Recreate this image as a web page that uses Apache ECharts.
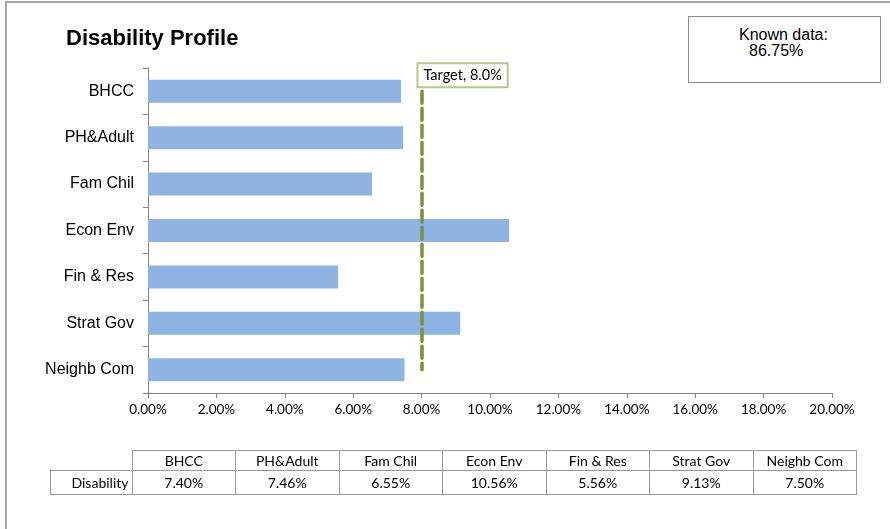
<!DOCTYPE html>
<html>
<head>
<meta charset="utf-8">
<script src="https://cdn.jsdelivr.net/npm/echarts@6/dist/echarts.min.js"></script>
<style>
    html, body { margin: 0; padding: 0; background: #fff; }
    body { width: 890px; height: 529px; position: relative; overflow: hidden; }
    #frame {
        position: absolute; left: 5px; top: 1px; width: 1000px; height: 700px;
        border-left: 2px solid #a6a6a6; border-top: 2px solid #a6a6a6;
    }
    #chart { position: absolute; left: 0; top: 0; width: 890px; height: 529px; }
    #known {
        position: absolute; left: 688px; top: 16px; width: 191px; height: 65px;
        border: 1px solid #8c8c8c; background: #fff;
        font-family: "Liberation Sans", Arial, sans-serif; font-size: 16px; color: #000;
        line-height: 16px;
    }
    #known .l1 { position: absolute; left: 50px; top: 10px; }
    #known .l2 { position: absolute; left: 60px; top: 26px; }
    #table {
        position: absolute; left: 50px; top: 450px;
        border-collapse: collapse; table-layout: fixed;
        font-family: Lato, "Open Sans", sans-serif; font-size: 14px; color: #000;
    }
    #table td { border: 1px solid #999; text-align: center; padding: 0; white-space: nowrap; }
    #table tr.head td { height: 19px; }
    #table tr.vals td { height: 23px; }
    #table td.rowlabel { text-align: right; padding-right: 3px; }
    #table td.blank { border-left: none; border-top: none; }
</style>
</head>
<body>
<div id="frame"></div>
<div id="chart"></div>
<div id="known"><span class="l1">Known data:</span><span class="l2">86.75%</span></div>
<table id="table"></table>
<script>
// chart data
const categories = ['BHCC', 'PH&Adult', 'Fam Chil', 'Econ Env', 'Fin & Res', 'Strat Gov', 'Neighb Com'];
const disability = [0.0740, 0.0746, 0.0655, 0.1056, 0.0556, 0.0913, 0.0750];
const targetValue = 0.08;
const targetLabel = 'Target, 8.0%';
const xTicks = [0, 0.02, 0.04, 0.06, 0.08, 0.10, 0.12, 0.14, 0.16, 0.18, 0.20];
const rowName = 'Disability';

const calibriLike = 'Lato, "Open Sans", sans-serif';

// data table under the chart
const table = document.getElementById('table');
let head = '<tr class="head"><td class="blank" style="width:81px"></td>';
categories.forEach(c => { head += '<td style="width:102.5px">' + c.replace('&', '&amp;') + '</td>'; });
head += '</tr>';
let vals = '<tr class="vals"><td class="rowlabel">' + rowName + '</td>';
disability.forEach(v => { vals += '<td>' + (v * 100).toFixed(2) + '%</td>'; });
vals += '</tr>';
table.innerHTML = head + vals;

const chart = echarts.init(document.getElementById('chart'));
const option = {
    animation: false,
    title: {
        text: 'Disability Profile',
        left: 61,
        top: 23,
        textStyle: {
            fontFamily: '"Liberation Sans", Arial, sans-serif',
            fontSize: 22,
            fontWeight: 'bold',
            color: '#000'
        }
    },
    grid: {
        left: 148,
        right: 58,
        top: 68,
        bottom: 136
    },
    xAxis: {
        type: 'value',
        min: xTicks[0],
        max: xTicks[xTicks.length - 1],
        interval: 0.02,
        axisLine: { show: true, lineStyle: { color: '#868686', width: 1 } },
        axisTick: { show: true, length: 5, lineStyle: { color: '#868686' } },
        splitLine: { show: false },
        axisLabel: {
            margin: 10,
            color: '#000',
            fontFamily: calibriLike,
            fontSize: 13.5,
            formatter: v => (v * 100).toFixed(2) + '%'
        }
    },
    yAxis: {
        type: 'category',
        inverse: true,
        data: categories,
        axisLine: { show: true, lineStyle: { color: '#868686', width: 1 } },
        axisTick: { show: true, length: 5, lineStyle: { color: '#868686' } },
        axisLabel: {
            margin: 14,
            color: '#000',
            fontFamily: '"Liberation Sans", Arial, sans-serif',
            fontSize: 16
        }
    },
    series: [
        {
            name: rowName,
            type: 'bar',
            data: disability,
            barWidth: 23,
            itemStyle: { color: '#8db4e2' },
            markLine: {
                silent: true,
                symbol: ['none', 'none'],
                lineStyle: {
                    color: '#77933c',
                    width: 3.5,
                    type: [12, 5],
                    cap: 'round'
                },
                label: {
                    show: true,
                    position: 'start',
                    distance: 5,
                    offset: [41, 0],
                    formatter: targetLabel,
                    color: '#000',
                    fontFamily: calibriLike,
                    fontSize: 14.5,
                    backgroundColor: '#fff',
                    borderColor: '#b4c98a',
                    borderWidth: 2,
                    padding: [4, 5, 3, 5]
                },
                data: [
                    [
                        { coord: [targetValue, categories[0]] },
                        { coord: [targetValue, categories[categories.length - 1]] }
                    ]
                ]
            }
        }
    ]
};
chart.setOption(option);
</script>
</body>
</html>
